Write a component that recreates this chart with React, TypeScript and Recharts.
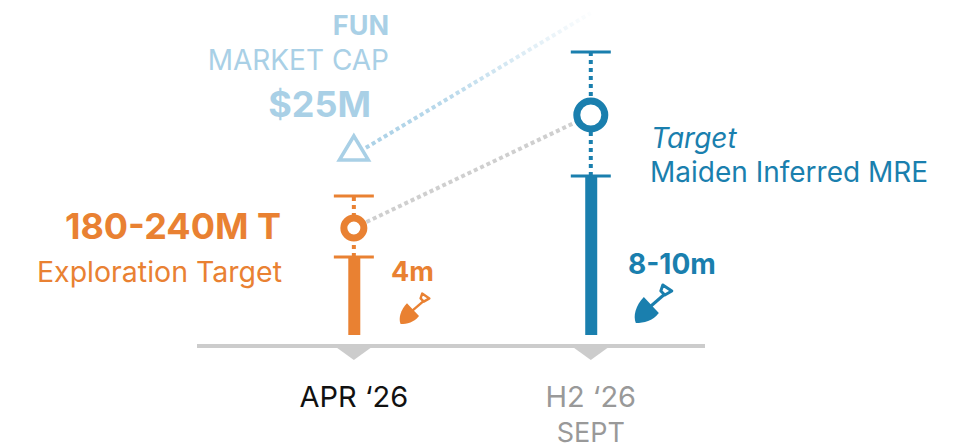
import { ComposedChart, Bar, Cell, Line, Scatter, XAxis, YAxis } from 'recharts'

const ORANGE = '#E98132'
const BLUE = '#1A7FAE'
const PALE = '#A9D0E6'
const GREY = '#CCCCCC'

// months of 2026, depth-style values in chart units above the baseline
const months = [4, 9]
const drillTops = [78, 159]
const capTops = [139, 283]
const targets = [107, 220]
const colours = [ORANGE, BLUE]
const marketCapStart = 180
const marketCapEnd = 322
const tickTitles = ['APR ‘26', 'H2 ‘26']
const tickSubtitles = ['', 'SEPT']
const shovelMonths = [5.29, 10.33]
const shovelValues = [27, 32]

const bars = months.map((month, i) => ({ month, top: drillTops[i] }))

const pair = (month: number, a: number, b: number) => [
  { month, value: a },
  { month, value: b },
]

const AxisTick = (props: any) => {
  const { x, payload } = props
  const i = months.indexOf(payload.value)
  return (
    <g>
      <polygon points={`${x - 18},347 ${x + 18},347 ${x},360`} fill={GREY} />
      <text x={x} y={407} textAnchor="middle" fontSize={29} fill={i === 0 ? '#111' : '#999'}>
        {tickTitles[i]}
      </text>
      <text x={x} y={442} textAnchor="middle" fontSize={27} fill="#999">
        {tickSubtitles[i]}
      </text>
    </g>
  )
}

const Cap = (props: any) => {
  const { cx, cy, payload } = props
  return <line x1={cx - 20} x2={cx + 20} y1={cy} y2={cy} stroke={colours[payload.i]} strokeWidth={3} />
}

const Ring = (props: any) => {
  const { cx, cy, payload } = props
  const orange = payload.i === 0
  return (
    <circle
      cx={cx}
      cy={cy}
      r={orange ? 10 : 14}
      fill="#fff"
      stroke={colours[payload.i]}
      strokeWidth={7}
    />
  )
}

const Triangle = (props: any) => {
  const { cx, cy } = props
  return (
    <polygon
      points={`${cx},${cy - 19} ${cx + 14.5},${cy + 5} ${cx - 14.5},${cy + 5}`}
      fill="#fff"
      stroke={PALE}
      strokeWidth={3.5}
    />
  )
}

const Shovel = (props: any) => {
  const { cx, cy, payload } = props
  const s = payload.i === 0 ? 0.8 : 1
  const c = colours[payload.i]
  return (
    <g transform={`translate(${cx - 20 * s},${cy - 20 * s}) scale(${s})`} fill={c}>
      <path d="M10 14 L25 30 C19 38 10 40 2 40 C-1 33 2 22 10 14 Z" />
      <line x1={16} y1={24} x2={31} y2={11} stroke={c} strokeWidth={3} />
      <polygon points="29,2 38,8 31,12 27,8" fill="none" stroke={c} strokeWidth={3} strokeLinejoin="round" />
    </g>
  )
}

export default function App() {
  return (
    <div style={{ position: 'absolute', left: 0, top: 0, fontFamily: 'Inter' }}>
      <ComposedChart
        width={972}
        height={446}
        data={bars}
        margin={{ top: 0, right: 267, bottom: 0, left: 197 }}
        style={{ fontFamily: 'Inter' }}
      >
        <defs>
          <linearGradient id="fade" gradientUnits="userSpaceOnUse" x1="354" y1="155" x2="591" y2="13">
            <stop offset="0%" stopColor={PALE} />
            <stop offset="40%" stopColor={PALE} stopOpacity={0.8} />
            <stop offset="100%" stopColor={PALE} stopOpacity={0.03} />
          </linearGradient>
        </defs>
        <XAxis
          dataKey="month"
          type="number"
          domain={[0.69, 11.41]}
          ticks={months}
          height={100}
          tickLine={false}
          axisLine={{ stroke: GREY, strokeWidth: 4 }}
          tick={<AxisTick />}
          interval={0}
        />
        <YAxis hide type="number" domain={[-11, 335]} />

        <Line
          data={[
            { month: months[0], value: marketCapStart },
            { month: months[1], value: marketCapEnd },
          ]}
          dataKey="value"
          stroke="url(#fade)"
          strokeWidth={4}
          strokeDasharray="4 3"
          dot={false}
          legendType="none"
          isAnimationActive={false}
        />
        <Line
          data={[
            { month: months[0], value: targets[0] },
            { month: months[1], value: targets[1] },
          ]}
          dataKey="value"
          stroke="#CFCFCF"
          strokeWidth={4}
          strokeDasharray="4 3"
          dot={false}
          isAnimationActive={false}
        />
        {months.map((month, i) => (
          <Line
            key={month}
            data={pair(month, drillTops[i], capTops[i])}
            dataKey="value"
            stroke={colours[i]}
            strokeWidth={4}
            strokeDasharray="4 4"
            dot={false}
            isAnimationActive={false}
          />
        ))}

        <Bar dataKey="top" barSize={12} isAnimationActive={false}>
          {months.map((month, i) => (
            <Cell key={month} fill={colours[i]} />
          ))}
        </Bar>

        <Scatter
          data={months.flatMap((month, i) => [
            { month, value: capTops[i], i },
            { month, value: drillTops[i], i },
          ])}
          dataKey="value"
          shape={<Cap />}
          isAnimationActive={false}
        />
        <Scatter
          data={months.map((month, i) => ({ month, value: targets[i], i }))}
          dataKey="value"
          shape={<Ring />}
          isAnimationActive={false}
        />
        <Scatter
          data={[{ month: months[0], value: marketCapStart }]}
          dataKey="value"
          shape={<Triangle />}
          isAnimationActive={false}
        />
        <Scatter
          data={shovelMonths.map((month, i) => ({ month, value: shovelValues[i], i }))}
          dataKey="value"
          shape={<Shovel />}
          isAnimationActive={false}
        />

        <g fontFamily="Inter">
          <text x={389} y={35} textAnchor="end" fontSize={27} fontWeight={700} fill={PALE}>FUN</text>
          <text x={389} y={70} textAnchor="end" fontSize={28} fill={PALE}>MARKET CAP</text>
          <text x={371} y={117} textAnchor="end" fontSize={36} fontWeight={700} fill={PALE}>$25M</text>
          <text x={281} y={239} textAnchor="end" fontSize={36} fontWeight={700} fill={ORANGE}>180-240M T</text>
          <text x={282} y={282} textAnchor="end" fontSize={28.5} fill={ORANGE}>Exploration Target</text>
          <text x={391} y={281} fontSize={27} fontWeight={700} fill={ORANGE}>4m</text>
          <text x={628} y={274} fontSize={28} fontWeight={700} fill={BLUE}>8-10m</text>
          <text x={651} y={148} fontSize={28} fontStyle="italic" fill={BLUE}>Target</text>
          <text x={650} y={182} fontSize={28} fill={BLUE}>Maiden Inferred MRE</text>
        </g>
      </ComposedChart>
    </div>
  )
}
